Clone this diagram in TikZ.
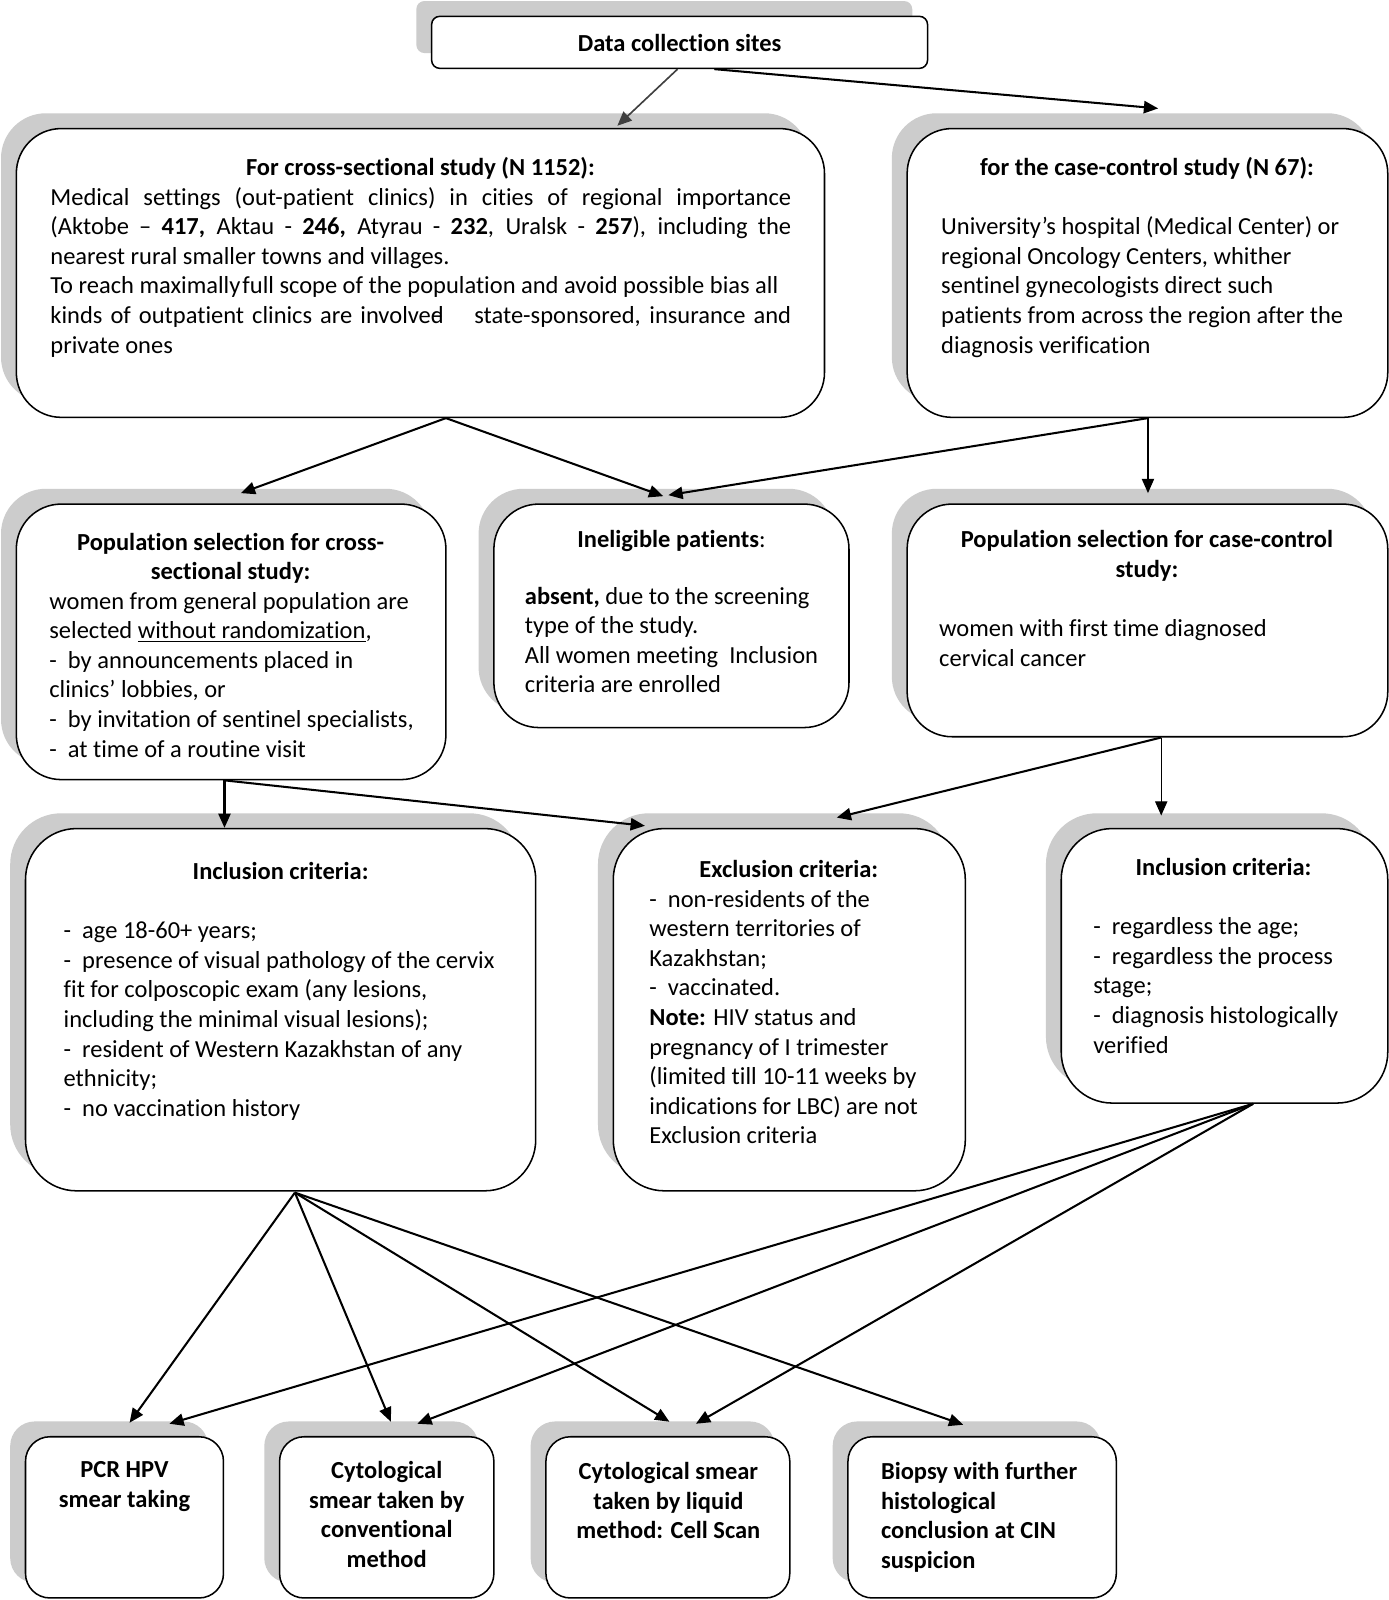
\documentclass[tikz,border=0pt]{standalone}
\usepackage{fontspec}
\setmainfont{Carlito}[Ligatures={NoCommon,NoContextual},Contextuals=NoAlternate]
\usetikzlibrary{shadows,calc,arrows.meta}
\XeTeXinterchartokenstate=1
\newXeTeXintercharclass\myTcls
\newXeTeXintercharclass\myIcls
\XeTeXcharclass`t=\myTcls
\XeTeXcharclass`i=\myIcls
\XeTeXinterchartoks\myTcls\myIcls={\kern0pt }
\definecolor{shadowgray}{gray}{0.8}
\newcommand{\Lr}[1]{\mbox{#1}\par}
\newcommand{\Lj}[2][363pt]{\makebox[#1][s]{#2}\par}
\newcommand{\fsz}{\fontsize{12pt}{14.5pt}\selectfont}
\begin{document}
\begin{tikzpicture}[x=0.5pt,y=-0.5pt,
 box/.style={draw=black, line width=0.75pt, fill=white, inner sep=0pt,
   drop shadow={shadow xshift=-7.5pt, shadow yshift=7.5pt, fill=shadowgray, opacity=1}},
 txt/.style={inner sep=0pt, font=\fsz, anchor=base west},
 hd/.style={inner sep=0pt, font=\fsz\bfseries, anchor=base},
 arr/.style={line width=1pt, -{Triangle[length=7pt,width=6pt]}},
 thinarr/.style={line width=0.7pt, -{Triangle[length=7pt,width=6pt]}},
]
\fill[white] (0,0) rectangle (1361,1568);
\useasboundingbox (0,0) rectangle (1361,1568);

% boxes
\node[box, minimum width=243pt, minimum height=25.5pt, rounded corners=4pt] (data) at (666,41.5) {};
\node[box, minimum width=396pt, minimum height=141.5pt, rounded corners=22pt] (cross) at (412,267.5) {};
\node[box, minimum width=235.5pt, minimum height=141.5pt, rounded corners=22pt] (cc) at (1124.5,267.5) {};
\node[box, minimum width=210.5pt, minimum height=135pt, rounded corners=22pt] (pop) at (226.5,629) {};
\node[box, minimum width=174pt, minimum height=109.5pt, rounded corners=22pt] (inel) at (658,603.5) {};
\node[box, minimum width=235.5pt, minimum height=114pt, rounded corners=22pt] (popcc) at (1124.5,608) {};
\node[box, minimum width=250pt, minimum height=177.5pt, rounded corners=25pt] (incl) at (275,989.5) {};
\node[box, minimum width=172.5pt, minimum height=177.5pt, rounded corners=25pt] (excl) at (773.5,989.5) {};
\node[box, minimum width=160pt, minimum height=134.5pt, rounded corners=25pt] (inclR) at (1200,946.5) {};
\node[box, minimum width=97pt, minimum height=79pt, rounded corners=12pt] (pcr) at (122,1487) {};
\node[box, minimum width=105pt, minimum height=79pt, rounded corners=12pt] (cyto) at (379,1487) {};
\node[box, minimum width=119.5pt, minimum height=79pt, rounded corners=12pt] (liq) at (654.5,1487) {};
\node[box, minimum width=131.5pt, minimum height=79pt, rounded corners=12pt] (bio) at (962.5,1487) {};

% texts
\node[hd] (dataT) at (666,50) {Data collection sites};

\node[hd] (crossH) at (412,172) {For cross-sectional study (N 1152):};
\node[txt] (crossB) at (49,201) {\parbox[t]{400pt}{%
\Lj{Medical settings (out-patient clinics) in cities of regional importance}%
\Lj{(Aktobe – \textbf{417,} Aktau - \textbf{246,} Atyrau - \textbf{232}, Uralsk - \textbf{257}), including the}%
\Lr{nearest rural smaller towns and villages.}%
\Lr{To reach maximally\kern1pt full scope of the population and avoid possible bias all}%
\Lj{kinds of outpatient clinics are involve\rlap{–}d\hspace{15pt}state-sponsored, insurance and}%
\Lr{private ones}}};

\node[hd] (ccH) at (1124,172) {for the case-control study (N 67):};
\node[txt] (ccB) at (922,230) {\parbox[t]{300pt}{%
\Lr{University’s hospital (Medical Center) or}%
\Lr{regional Oncology Centers, whither}%
\Lr{sentinel gynecologists direct such}%
\Lr{patients from across the region after the}%
\Lr{diagnosis verification}}};

\node[hd] (popH) at (226,539) {\parbox[t]{220pt}{\centering Population selection for cross-\\sectional study:}};
\node[txt] (popB) at (48,597) {\parbox[t]{300pt}{%
\Lr{women from general population are}%
\Lr{selected \underline{without randomization},}%
\Lr{-\ \ by announcements placed in}%
\Lr{clinics’ lobbies, or}%
\Lr{-\ \ by invitation of sentinel specialists,}%
\Lr{-\ \ at time of a routine visit}}};

\node[hd, font=\fsz] (inelH) at (658,537) {\textbf{Ineligible patients}:};
\node[txt] (inelB) at (514,592) {\parbox[t]{300pt}{%
\Lr{\textbf{absent,} due to the screening}%
\Lr{type of the study.}%
\Lr{All women meeting\ \ Inclusion}%
\Lr{criteria are enrolled}}};

\node[hd] (popccH) at (1124,537) {\parbox[t]{220pt}{\centering Population selection for case-control\\study:}};
\node[txt] (popccB) at (920,624) {\parbox[t]{300pt}{%
\Lr{women with first time diagnosed}%
\Lr{cervical cancer}}};

\node[hd] (inclH) at (275,862) {Inclusion criteria:};
\node[txt] (inclB) at (62,920) {\parbox[t]{300pt}{%
\Lr{-\ \ age 18-60+ years;}%
\Lr{-\ \ presence of visual pathology of the cervix}%
\Lr{fit for colposcopic exam (any lesions,}%
\Lr{including the minimal visual lesions);}%
\Lr{-\ \ resident of Western Kazakhstan of any}%
\Lr{ethnicity;}%
\Lr{-\ \ no vaccination history}}};

\node[hd] (exclH) at (773,860) {Exclusion criteria:};
\node[txt] (exclB) at (636,889) {\parbox[t]{300pt}{%
\Lr{-\ \ non-residents of the}%
\Lr{western territories of}%
\Lr{Kazakhstan;}%
\Lr{-\ \ vaccinated.}%
\Lr{\textbf{Note:} HIV status and}%
\Lr{pregnancy of I trimester}%
\Lr{(limited till 10-11 weeks by}%
\Lr{indications for LBC) are not}%
\Lr{Exclusion criteria}}};

\node[hd] (inclRH) at (1199,858) {Inclusion criteria:};
\node[txt] (inclRB) at (1071,916) {\parbox[t]{300pt}{%
\Lr{-\ \ regardless the age;}%
\Lr{-\ \ regardless the process}%
\Lr{stage;}%
\Lr{-\ \ diagnosis histologically}%
\Lr{verified}}};

\node[hd] (pcrT) at (122,1448) {\parbox[t]{120pt}{\centering PCR HPV\\smear taking}};
\node[hd] (cytoT) at (379,1449) {\parbox[t]{120pt}{\centering Cytological\\smear taken by\\conventional\\method}};
\node[hd] (liqT) at (655,1450) {\parbox[t]{140pt}{\centering Cytological smear\\taken by liquid\\method: Cell Scan}};
\node[txt, font=\fsz\bfseries] (bioT) at (863,1450) {\parbox[t]{150pt}{\raggedright Biopsy with further\\histological\\conclusion at CIN\\suspicion}};

% connectors
\draw[thinarr, line width=0.8pt, color=black!75] ($(data.south)+(-2,0)$) -- ($(cross.north)+(193,-2)$);
\draw[arr] ($(data.south)+(34,0)$) -- ($(cc.north)+(10.5,-19)$);
\draw[arr] ($(cross.south)+(25,0)$) -- ($(pop.north)+(9.5,-10)$);
\draw[arr] ($(cross.south)+(25,0)$) -- ($(inel.north)+(-8,-7)$);
\draw[arr] ($(cc.south)+(0.5,0)$) -- ($(inel.north)+(-3,-8)$);
\draw[thinarr] ($(cc.south)+(0.5,0)$) -- ($(popcc.north)+(0.5,-10)$);
\draw[arr] ($(pop.south)+(-6.5,0)$) -- ($(incl.north)+(-55,0)$);
\draw[arr] ($(pop.south)+(-6.5,0)$) -- ($(excl.north)+(-141.5,-2)$);
\draw[arr] ($(popcc.south)+(13.5,0)$) -- ($(excl.north)+(46.5,-10)$);
\draw[thinarr] ($(popcc.south)+(13.5,0)$) -- ($(inclR.north)+(-62,-12)$);
\draw[arr] ($(incl.south)+(14,1)$) -- ($(pcr.north)+(5,-13)$);
\draw[arr] ($(incl.south)+(14,1)$) -- ($(cyto.north)+(4,-14)$);
\draw[arr] ($(incl.south)+(14,1)$) -- ($(liq.north)+(1.5,-14)$);
\draw[arr] ($(incl.south)+(14,1)$) -- ($(bio.north)+(-18.5,-11)$);
\draw[arr] ($(inclR.south)+(28,0)$) -- ($(pcr.north)+(44,-12)$);
\draw[arr] ($(inclR.south)+(28,0)$) -- ($(cyto.north)+(30,-12)$);
\draw[arr] ($(inclR.south)+(28,0)$) -- ($(liq.north)+(27.5,-12)$);
\end{tikzpicture}
\end{document}
